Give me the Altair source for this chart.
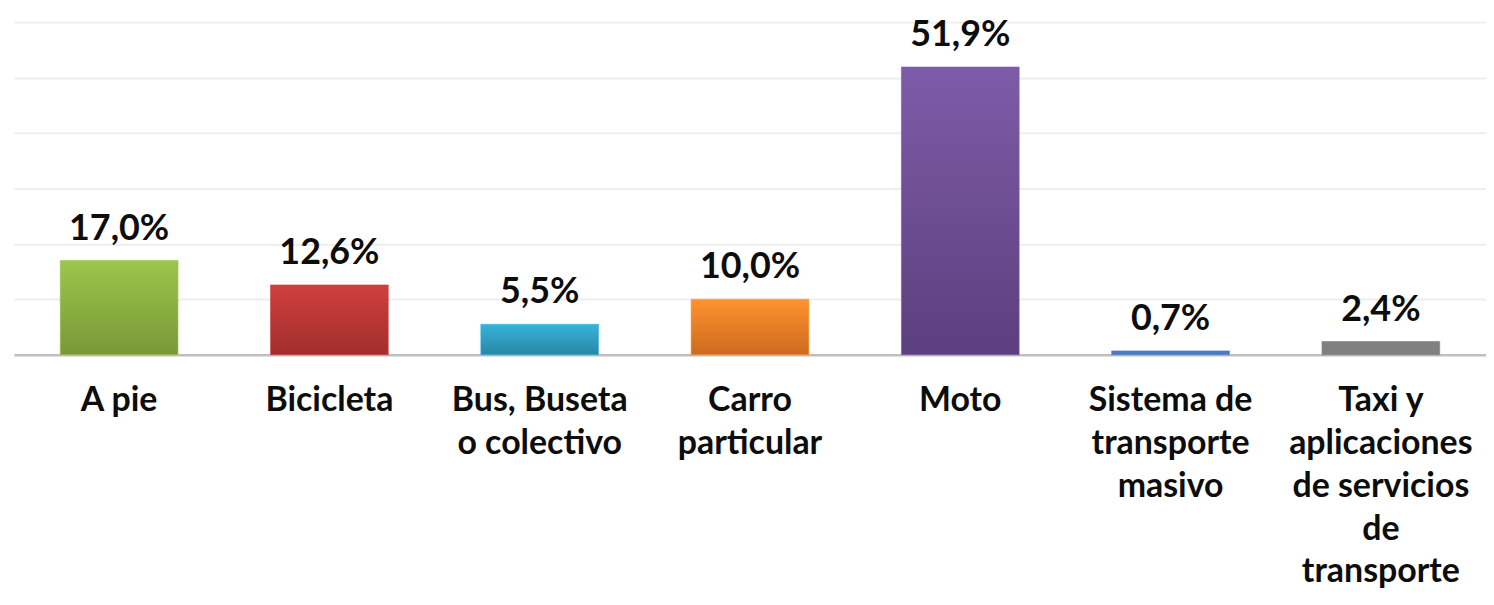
import altair as alt
import pandas as pd

categories = [
    "A pie",
    "Bicicleta",
    "Bus, Buseta\no colectivo",
    "Carro\nparticular",
    "Moto",
    "Sistema de\ntransporte\nmasivo",
    "Taxi y\naplicaciones\nde servicios\nde\ntransporte",
]
values = [17.0, 12.6, 5.5, 10.0, 51.9, 0.7, 2.4]
top_colors = ["#9dc54b", "#cf3f3e", "#37b3d9", "#ff9330", "#7e5ba8", "#4a7bc4", "#808080"]
bottom_colors = ["#789838", "#a22d2c", "#2887a6", "#cd6a1e", "#5c3f7e", "#4a7bc4", "#808080"]

df = pd.DataFrame({"cat": categories, "val": values})

FONT = "Lato"

x_enc = alt.X(
    "cat:N",
    sort=categories,
    scale=alt.Scale(paddingInner=0.44, paddingOuter=0.22),
    axis=alt.Axis(
        title=None,
        labelAngle=0,
        labelExpr="split(datum.label, '\\n')",
        labelFont=FONT,
        labelFontWeight="bold",
        labelFontSize=34,
        labelColor="#0d0d0d",
        labelLineHeight=43,
        labelPadding=29,
        labelBaseline="top",
        labelLimit=300,
        ticks=False,
        domainColor="#bfbfbf",
        domainWidth=2.5,
        grid=False,
    ),
)
y_scale = alt.Scale(domain=[0, 60], nice=False, zero=True)

base = alt.Chart(df)

layers = []
for cat, tc, bc in zip(categories, top_colors, bottom_colors):
    layers.append(
        base.transform_filter(alt.datum.cat == cat)
        .mark_bar(
            color=alt.Gradient(
                gradient="linear",
                stops=[alt.GradientStop(color=tc, offset=0), alt.GradientStop(color=bc, offset=1)],
                x1=0, x2=0, y1=0, y2=1,
            ),
            stroke=tc,
            strokeOpacity=0.6,
            strokeWidth=1,
        )
        .encode(
            x=x_enc,
            y=alt.Y(
                "val:Q",
                scale=y_scale,
                axis=alt.Axis(
                    title=None, labels=False, ticks=False, domain=False,
                    values=[10, 20, 30, 40, 50, 60],
                    gridColor="#eeeeee", gridWidth=2,
                ),
            ),
        )
    )

text = (
    base.transform_calculate(
        lbl="replace(format(datum.val, '.1f'), '.', ',') + '%'"
    )
    .mark_text(
        font=FONT, fontWeight="bold", fontSize=36, color="#0d0d0d",
        baseline="alphabetic", dy=-21,
    )
    .encode(x=x_enc, y=alt.Y("val:Q", scale=y_scale), text="lbl:N")
)

chart = (
    alt.layer(*layers, text)
    .properties(
        width=1478,
        height=334,
        padding={"left": 6, "top": 13, "right": 0, "bottom": 236},
        autosize=alt.AutoSizeParams(type="none"),
    )
    .configure_view(stroke=None)
)

chart.save("out.html", embed_options={"renderer": "svg", "actions": False})
